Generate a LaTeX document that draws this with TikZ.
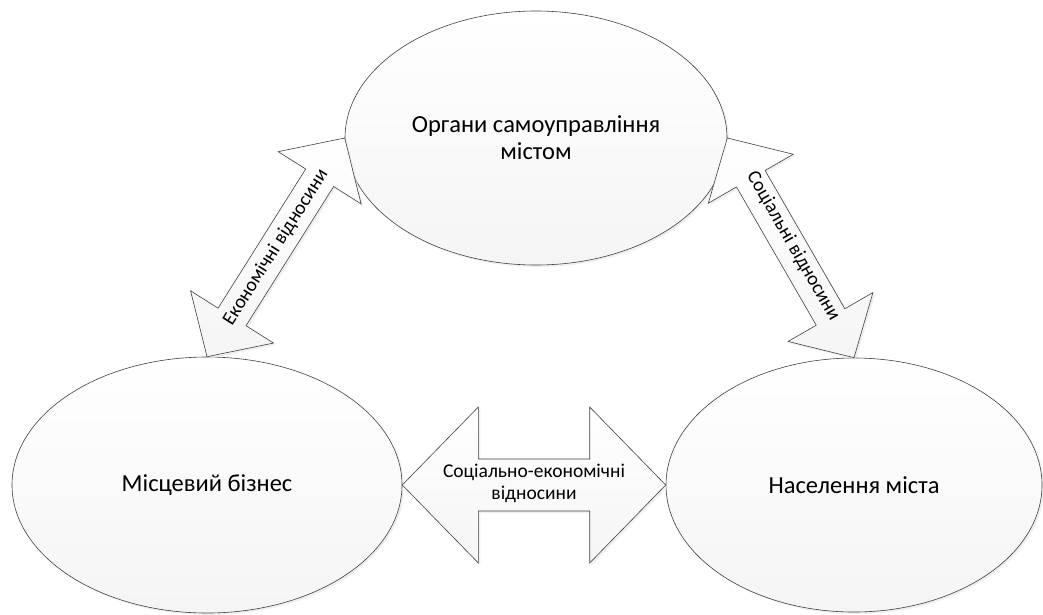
\documentclass[tikz,border=0pt]{standalone}
\usepackage{fontspec}
\setmainfont{Carlito}
\usepackage{tikz}
\usetikzlibrary{calc,shadows}
\usetikzlibrary{shapes.geometric}

% block arrow with a head at both ends
% #1 prefix, #2 from, #3 to, #4 head length, #5 head half width, #6 shaft half width
\newcommand{\dblarrow}[6]{%
	\coordinate (#1a) at ($(#2)!#4!(#3)$);
	\coordinate (#1b) at ($(#3)!#4!(#2)$);
	\draw[arrowbox] (#2) -- ($(#1a)!#5!90:(#3)$) -- ($(#1a)!#6!90:(#3)$)
		-- ($(#1b)!#6!-90:(#2)$) -- ($(#1b)!#5!-90:(#2)$) -- (#3)
		-- ($(#1b)!#5!90:(#2)$) -- ($(#1b)!#6!90:(#2)$)
		-- ($(#1a)!#6!-90:(#3)$) -- ($(#1a)!#5!-90:(#3)$) -- cycle;
}

\begin{document}
\begin{tikzpicture}[x=1pt, y=-1pt,
	bubble/.style={ellipse, draw=black!75, line width=0.6pt, inner sep=0pt,
		top color=white, bottom color=black!4, align=center,
		font=\fontsize{24.5}{27}\selectfont,
		drop shadow={shadow xshift=2pt, shadow yshift=-2pt, fill=black!10, opacity=0.6}},
	arrowbox/.style={draw=black!75, line width=0.6pt, line join=miter,
		top color=white, bottom color=black!4,
		drop shadow={shadow xshift=2pt, shadow yshift=-2pt, fill=black!10, opacity=0.6}},
	arrowlabel/.style={align=center, inner sep=0pt, font=\fontsize{19.5}{22}\selectfont}
	]

	\useasboundingbox (0,0) rectangle (1043,614);

	% the three parties
	\node[bubble, minimum width=382, minimum height=254] (Org) at (536,138)
		{Органи самоуправління\\містом};
	\node[bubble, minimum width=390, minimum height=256] (Biz) at (207,485)
		{Місцевий бізнес};
	\node[bubble, minimum width=376, minimum height=254] (Pop) at (854,485)
		{Населення міста};

	%%%%%%%%%%%%%%%%%%%%%%%%%%%%%%%%%%%%%%%%%%%%%%%%%%%%%%%%%%%%%%
	% relations between them
	\dblarrow{L}{Biz.north}{Org.west}{47pt}{49pt}{16.5pt}
	\dblarrow{R}{Org.east}{Pop.north}{47pt}{49pt}{16.5pt}
	\dblarrow{H}{Biz.east}{Pop.west}{76pt}{78pt}{26pt}

	\path (Biz.north) -- node[arrowlabel, sloped] (LL) {Економічні відносини} (Org.west);
	\path (Org.east) -- node[arrowlabel, sloped, yshift=3pt] (RL) {Соціальні відносини} (Pop.north);
	\path (Biz.east) -- node[arrowlabel, yshift=2pt] (HL) {Соціально-економічні\\відносини} (Pop.west);

\end{tikzpicture}
\end{document}
